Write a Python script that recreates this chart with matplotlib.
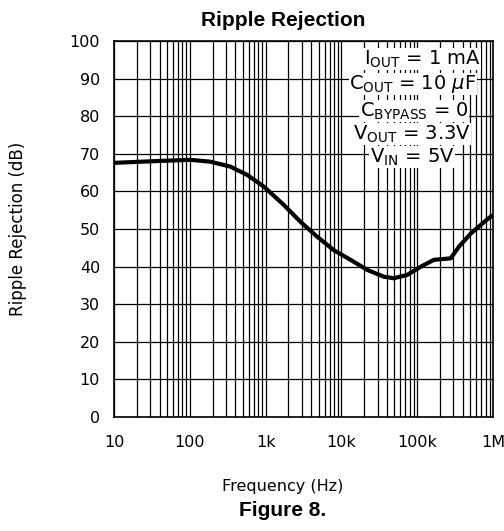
import matplotlib
matplotlib.use("Agg")
import matplotlib.pyplot as plt
import numpy as np

# values
freq_hz = [10.3, 30, 101, 186, 342, 569, 945, 1740, 2890, 4760, 7900, 13200, 22000,
           36600, 49000, 74000, 112000, 166000, 277000, 355000, 510000, 767000, 990000]
rejection_db = [67.6, 68.0, 68.4, 67.9, 66.6, 64.4, 61.3, 56.4, 51.9, 48.0, 44.4, 41.8, 39.1,
                37.3, 36.9, 37.8, 40.0, 41.8, 42.2, 45.3, 48.8, 51.9, 53.7]

x_ticks = [10, 100, 1e3, 1e4, 1e5, 1e6]
x_tick_labels = ["10", "100", "1k", "10k", "100k", "1M"]
y_ticks = list(range(0, 101, 10))

conditions = [r"$\mathregular{I_{OUT}}$ = 1 mA",
              r"$\mathregular{C_{OUT}}$ = 10 $\mu$F",
              r"$\mathregular{C_{BYPASS}}$ = 0",
              r"$\mathregular{V_{OUT}}$ = 3.3V",
              r"$\mathregular{V_{IN}}$ = 5V"]

plt.rcParams["font.family"] = ["DejaVu Sans"]

fig = plt.figure(figsize=(5.04, 5.31), dpi=100)
ax = fig.add_axes([114 / 504, 1 - 417 / 531, 379 / 504, 376 / 531])

ax.set_xscale("log")
ax.set_xlim(10, 1e6)
ax.set_ylim(0, 100)

ax.set_xticks(x_ticks)
ax.set_xticklabels(x_tick_labels, fontsize=11.5)
ax.xaxis.set_minor_locator(matplotlib.ticker.LogLocator(base=10, subs=np.arange(2, 10)))
ax.xaxis.set_minor_formatter(matplotlib.ticker.NullFormatter())
ax.set_yticks(y_ticks)
ax.set_yticklabels([str(v) for v in y_ticks], fontsize=11.5)
ax.tick_params(which="both", length=0)
ax.tick_params(axis="x", pad=13)
ax.tick_params(axis="y", pad=10)

ax.grid(True, which="both", axis="x", color="black", linewidth=0.9)
ax.grid(True, which="major", axis="y", color="black", linewidth=0.9)
for s in ax.spines.values():
    s.set_linewidth(1.2)

ax.plot(freq_hz, rejection_db, color="black", linewidth=3.0, solid_capstyle="butt", zorder=3)

# condition box, white behind each line of text
ys = [59, 84, 111, 134, 157]
xs = [422, 413, 414, 412, 412]
for txt, xp, yp in zip(conditions, xs, ys):
    fig.text(xp / 504, 1 - yp / 531, txt, ha="center", va="center", fontsize=14,
             bbox=dict(facecolor="white", edgecolor="none", pad=0.3), zorder=5)

fig.text(283 / 504, 1 - 21 / 531, "Ripple Rejection", ha="center", va="center",
         fontsize=15, fontweight="bold", family="Liberation Sans")
fig.text(18 / 504, 1 - 229 / 531, "Ripple Rejection (dB)", ha="center", va="center",
         rotation=90, fontsize=12)
fig.text(283 / 504, 1 - 487 / 531, "Frequency (Hz)", ha="center", va="center", fontsize=11.5)
fig.text(283 / 504, 1 - 510 / 531, "Figure 8.", ha="center", va="center",
         fontsize=15, fontweight="bold", family="Liberation Sans")

fig.savefig("out.png", dpi=100)
